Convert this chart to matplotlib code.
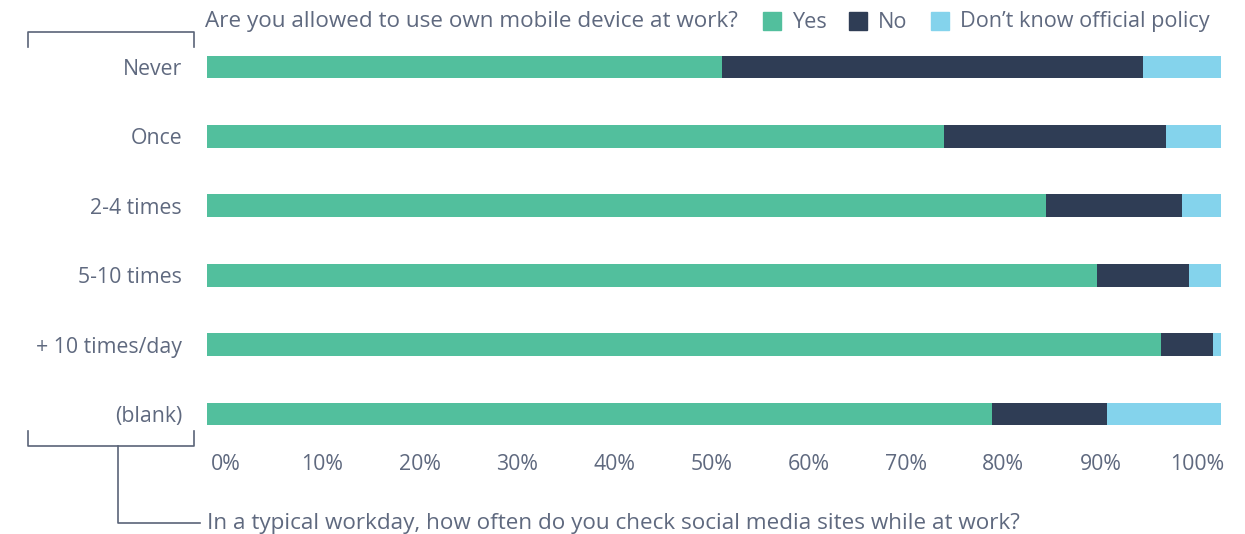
import numpy as np
import matplotlib.pyplot as plt
from matplotlib.lines import Line2D
from matplotlib.patches import Rectangle

categories = ['Never', 'Once', '2-4 times', '5-10 times', '+ 10 times/day', '(blank)']
yes = [50.8, 72.7, 82.7, 87.8, 94.1, 77.4]
no = [41.5, 21.9, 13.5, 9.0, 5.1, 11.4]
dont_know = [7.7, 5.4, 3.8, 3.2, 0.8, 11.2]
series_names = ['Yes', 'No', 'Don\u2019t know official policy']
tick_labels = ['0%', '10%', '20%', '30%', '40%', '50%', '60%', '70%', '80%', '90%', '100%']

colors = ['#52bf9d', '#2f3d55', '#84d3ec']
text_color = '#5f697f'
line_color = '#5a6478'
font = 'Open Sans'
fs = 15.3

plt.rcParams['font.family'] = [font, 'DejaVu Sans']

W, H = 1245, 534
fig = plt.figure(figsize=(W / 100, H / 100), dpi=100)
ax = fig.add_axes([207 / W, 1 - 448.7 / H, (1221 - 207) / W, (448.7 - 32.3) / H])

y = np.arange(len(categories))
left = np.zeros(len(categories))
for vals, c, name in zip([yes, no, dont_know], colors, series_names):
    ax.barh(y, vals, left=left, height=0.33, color=c, label=name)
    left += np.array(vals)

ax.set_xlim(0, 100)
ax.set_ylim(5.5, -0.5)
ax.set_yticks(y)
ax.set_yticklabels(categories, fontsize=fs, color=text_color)
# tick labels in the reference are spread slightly inside the bar span
ax.set_xticks(np.linspace(1.8, 97.7, len(tick_labels)))
ax.set_xticklabels(tick_labels, fontsize=fs, color=text_color)
ax.tick_params(axis='y', length=0, pad=18)
ax.tick_params(axis='x', length=0, pad=3.5)
for s in ax.spines.values():
    s.set_visible(False)

# title + legend row
fig.text(205 / W, 1 - 22 / H, 'Are you allowed to use own mobile device at work?',
         fontsize=16.2, color=text_color, va='center', ha='left')
legend_x = [763, 849, 931]
for lx, c, name in zip(legend_x, colors, series_names):
    fig.patches.append(Rectangle((lx / W, 1 - 30 / H), 18 / W, 18 / H,
                                 transform=fig.transFigure, color=c))
    fig.text((lx + 29) / W, 1 - 22 / H, name, fontsize=15.6, color=text_color,
             va='center', ha='left')

# brackets
def fig_line(xs, ys):
    fig.add_artist(Line2D([x / W for x in xs], [1 - v / H for v in ys],
                          color=line_color, lw=1.2, transform=fig.transFigure))

fig_line([28, 28, 194, 194], [47, 32, 32, 47])
fig_line([28, 28, 194, 194], [431, 446, 446, 431])
fig_line([118, 118, 200], [446, 523, 523])

fig.text(207 / W, 1 - 523 / H,
         'In a typical workday, how often do you check social media sites while at work?',
         fontsize=16.2, color=text_color, va='center', ha='left')

fig.savefig('out.png', dpi=100)
